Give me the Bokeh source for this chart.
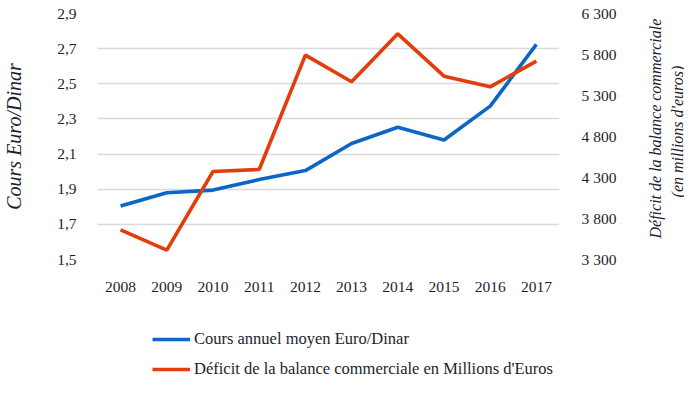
import math
from bokeh.plotting import figure
from bokeh.layouts import column, row
from bokeh.models import (Range1d, LinearAxis, FixedTicker, CustomJSTickFormatter,
                          Legend, LegendItem, Label)
from bokeh.embed import file_html
from bokeh.resources import INLINE

years = ["2008", "2009", "2010", "2011", "2012", "2013", "2014", "2015", "2016", "2017"]
cours = [1.804, 1.880, 1.895, 1.955, 2.006, 2.160, 2.253, 2.180, 2.373, 2.724]
deficit = [3662, 3414, 4373, 4398, 5793, 5467, 6052, 5536, 5406, 5719]
left_ticks = [1.5, 1.7, 1.9, 2.1, 2.3, 2.5, 2.7, 2.9]
right_ticks = [3300, 3800, 4300, 4800, 5300, 5800, 6300]
name_cours = "Cours annuel moyen Euro/Dinar"
name_deficit = "Déficit de la balance commerciale en Millions d'Euros"
title_left = "Cours Euro/Dinar"
title_right_1 = "Déficit de la balance commerciale"
title_right_2 = "(en millions d'euros)"

BLUE = "#0B66C6"
RED = "#E23D0B"
TXT = "#1E1E2E"
FONT = "Liberation Serif"
W_MAIN, W_TITLE = 640, 44
H_MAIN, H_LEG = 298, 79

p = figure(width=W_MAIN, height=H_MAIN, x_range=years, y_range=Range1d(1.5, 2.9),
           output_backend="svg", toolbar_location=None,
           min_border_left=89, min_border_right=81, min_border_top=13, min_border_bottom=39)
p.extra_y_ranges = {"def": Range1d(3300, 6300)}
p.outline_line_color = None
p.background_fill_color = "white"
p.border_fill_color = "white"

r1 = p.line(years, cours, line_color=BLUE, line_width=3.6)
r2 = p.line(years, deficit, line_color=RED, line_width=3.6, y_range_name="def")

xa = p.xaxis[0]
xa.axis_line_color = None
xa.major_tick_line_color = None
xa.minor_tick_line_color = None
xa.major_tick_out = 0
xa.major_label_standoff = 22
xa.major_label_text_font = FONT
xa.major_label_text_font_size = "15.5px"
xa.major_label_text_color = TXT

ya = p.yaxis[0]
ya.ticker = FixedTicker(ticks=left_ticks)
ya.formatter = CustomJSTickFormatter(code="return tick.toFixed(1).replace('.', ',');")
ya.axis_line_color = None
ya.major_tick_line_color = None
ya.minor_tick_line_color = None
ya.major_label_standoff = 15
ya.major_label_text_font = FONT
ya.major_label_text_font_size = "15.5px"
ya.major_label_text_color = TXT
ya.axis_label = title_left
ya.axis_label_text_font = FONT
ya.axis_label_text_font_style = "italic"
ya.axis_label_text_font_size = "20px"
ya.axis_label_text_color = TXT
ya.axis_label_standoff = 29

ra = LinearAxis(y_range_name="def", ticker=FixedTicker(ticks=right_ticks),
                formatter=CustomJSTickFormatter(code="const s = Math.round(tick).toString(); return s.slice(0, -3) + ' ' + s.slice(-3);"))
ra.axis_line_color = None
ra.major_tick_line_color = None
ra.minor_tick_line_color = None
ra.major_label_standoff = 16
ra.major_label_text_font = FONT
ra.major_label_text_font_size = "15.5px"
ra.major_label_text_color = TXT
p.add_layout(ra, "right")

p.xgrid.grid_line_color = None
p.ygrid.ticker = FixedTicker(ticks=left_ticks)
p.ygrid.grid_line_color = "#D9D9DE"
p.ygrid.grid_line_width = 1.5

# right-hand title strip (shares the y range of the chart)
p3 = figure(width=W_TITLE, height=H_MAIN, x_range=Range1d(0, W_TITLE), y_range=p.y_range,
            x_axis_type=None, y_axis_type=None, output_backend="svg", toolbar_location=None,
            min_border_left=0, min_border_right=0, min_border_top=13, min_border_bottom=39)
p3.outline_line_color = None
p3.grid.visible = False
for tx, xx, yy in ((title_right_1, 14.5, 2.245), (title_right_2, 36.5, 2.228)):
    p3.add_layout(Label(x=xx, y=yy, text=tx, angle=math.pi / 2, text_align="center",
                        text_baseline="middle", text_font=FONT, text_font_style="italic",
                        text_font_size="16px", text_color=TXT))

# legend strip
p2 = figure(width=W_MAIN + W_TITLE, height=H_LEG, x_range=Range1d(0, 1), y_range=Range1d(0, 1),
            x_axis_type=None, y_axis_type=None, output_backend="svg",
            toolbar_location=None, min_border_left=89, min_border_right=0,
            min_border_top=0, min_border_bottom=0)
p2.outline_line_color = None
p2.grid.visible = False
l1 = p2.line(x=[math.nan], y=[math.nan], line_color=BLUE, line_width=3.6)
l2 = p2.line(x=[math.nan], y=[math.nan], line_color=RED, line_width=3.6)
legend = Legend(items=[LegendItem(label=name_cours, renderers=[l1]),
                       LegendItem(label=name_deficit, renderers=[l2])],
                location=(63, -2), orientation="vertical",
                glyph_width=38, glyph_height=20, label_height=20, label_standoff=4,
                spacing=10, padding=0, margin=0, border_line_color=None,
                background_fill_alpha=0, label_text_font=FONT,
                label_text_font_size="16.5px", label_text_color=TXT)
p2.add_layout(legend, "center")

layout = column(row(p, p3, spacing=0), p2, spacing=0)
open("out.html", "w").write(file_html(layout, INLINE))
